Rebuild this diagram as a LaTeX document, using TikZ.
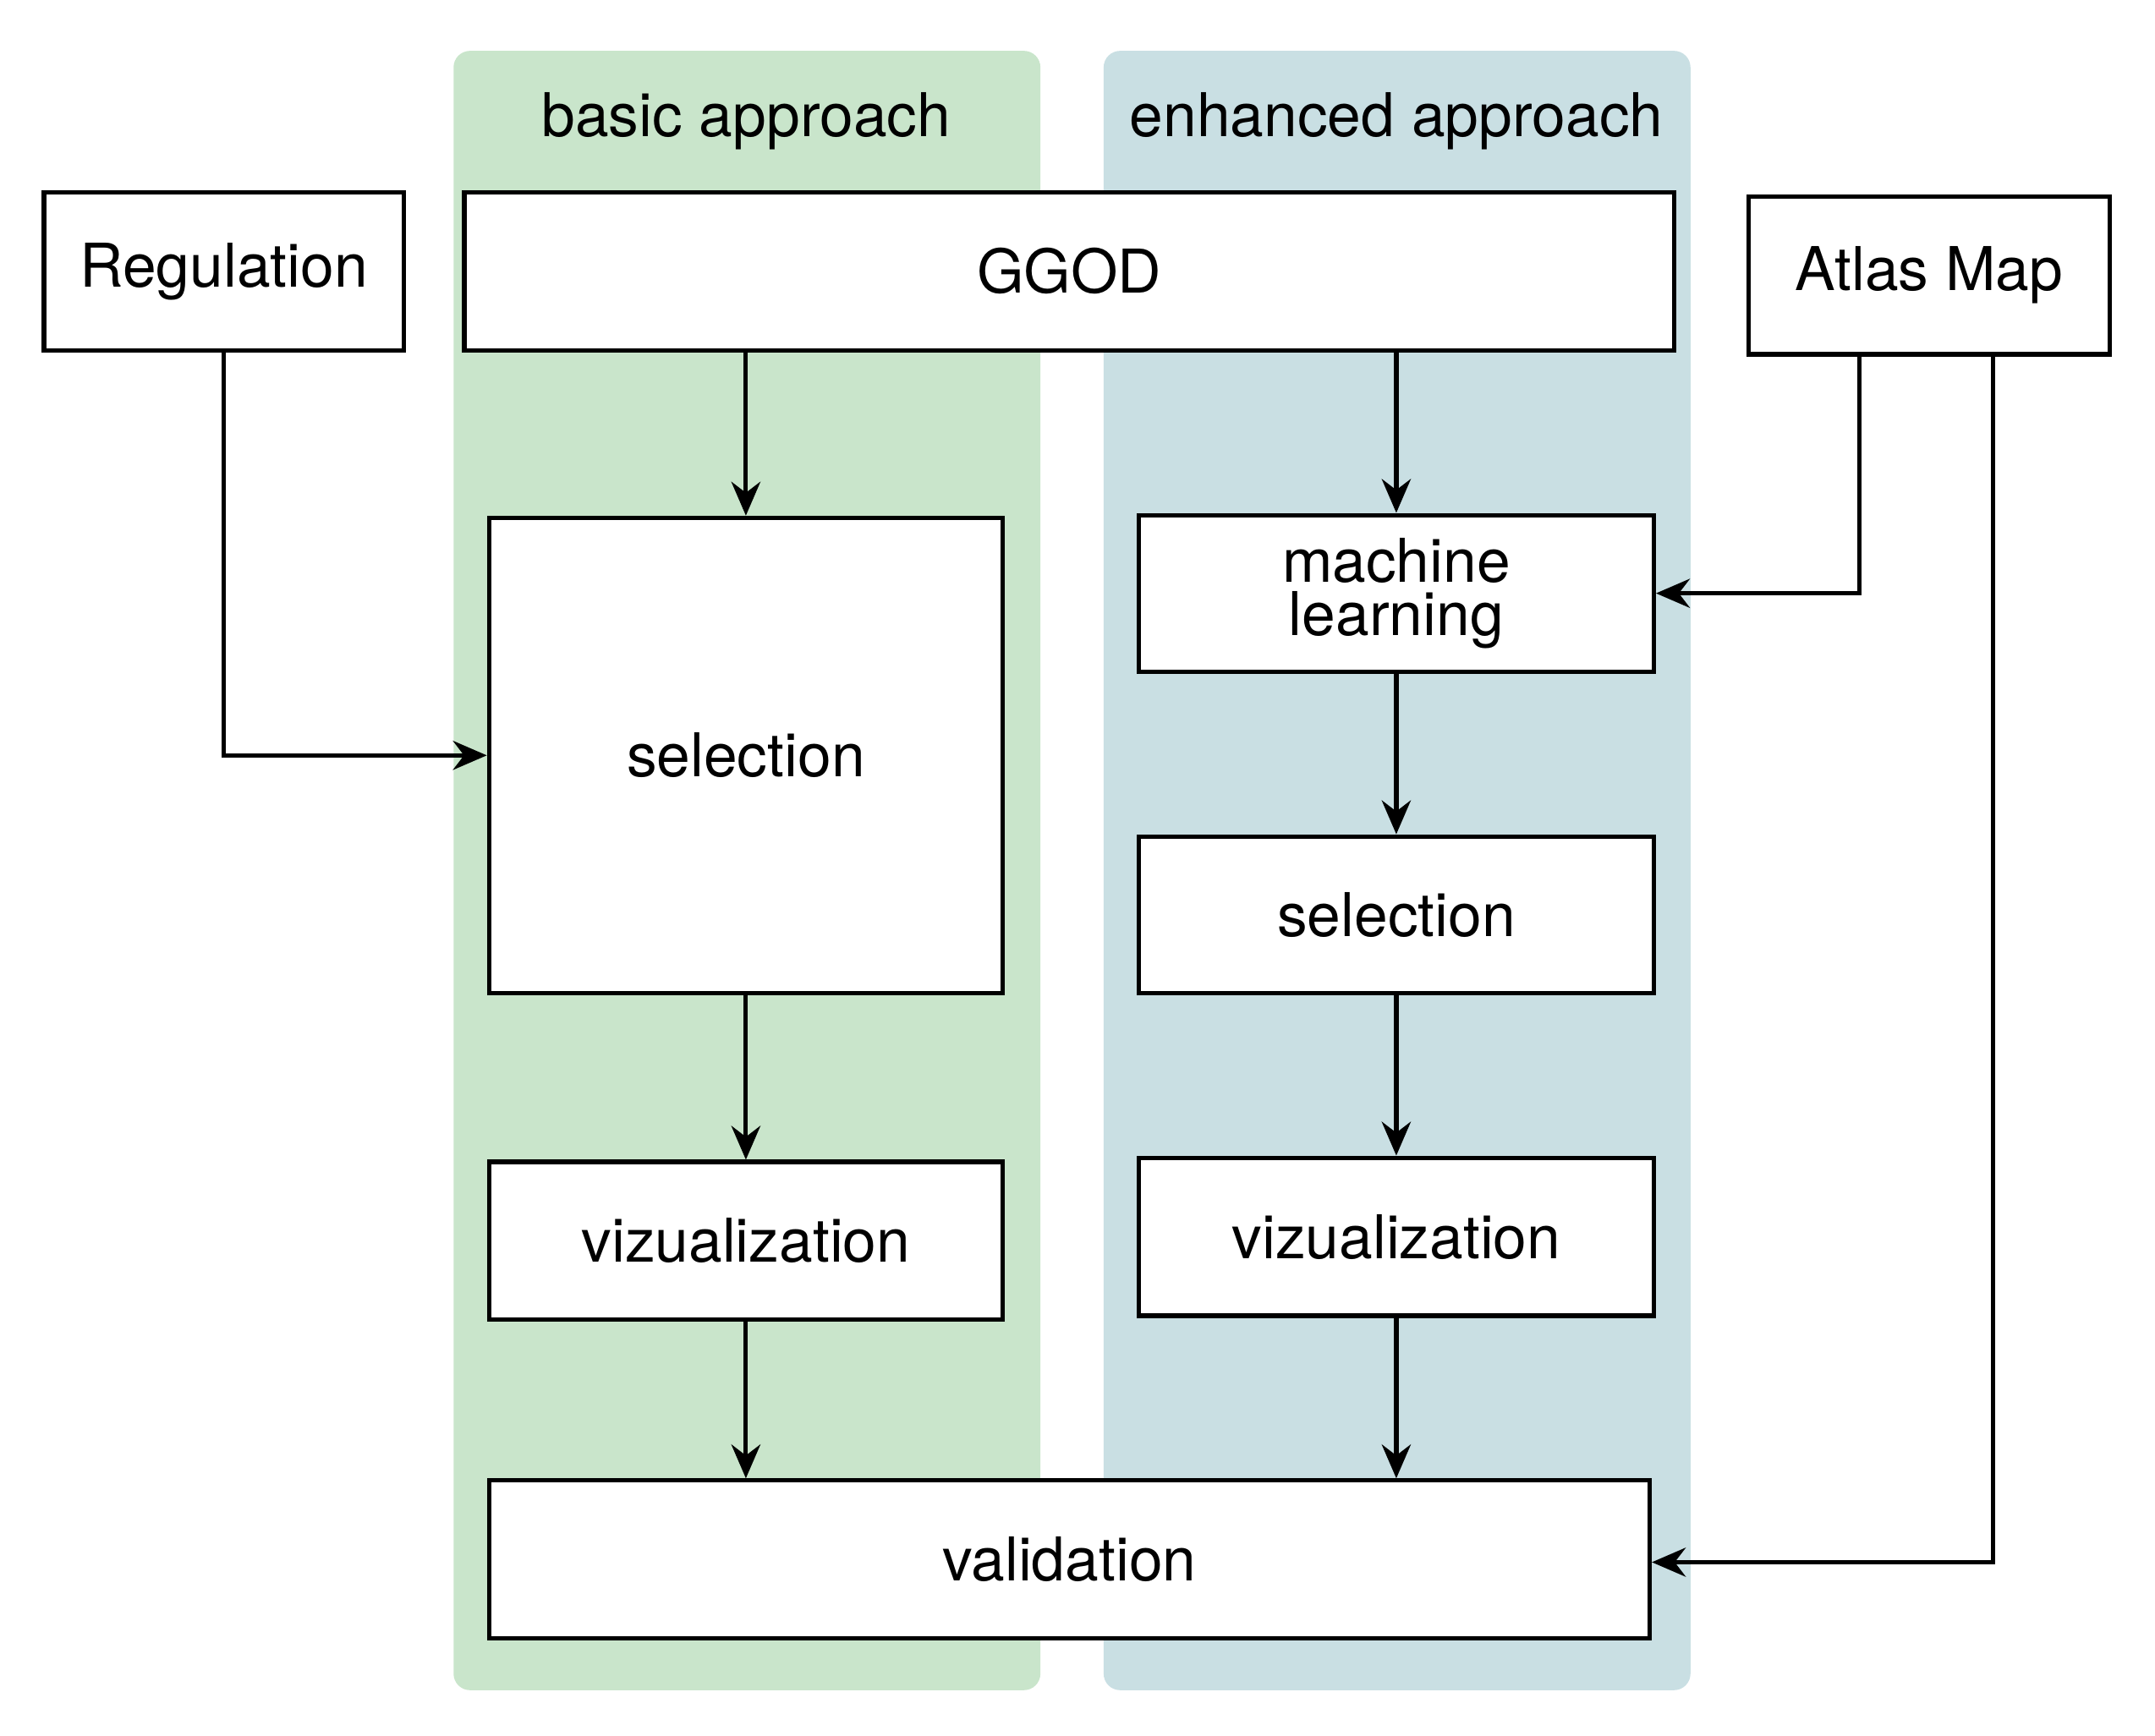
\documentclass[tikz,border=0pt]{standalone}
\usepackage{fontspec}
\setmainfont{TeX Gyre Heros}
\usetikzlibrary{arrows.meta}
\definecolor{pgreen}{HTML}{C9E5CB}
\definecolor{pblue}{HTML}{C9DFE3}
\tikzset{
  box/.style={draw,line width=0.9pt,fill=white,inner sep=0pt,font=\fontsize{12.5}{13}\selectfont,align=center},
  conn/.style={line width=0.9pt,-{Stealth[length=7pt,width=6pt]}},
  panel/.style={rounded corners=0.12cm},
  title/.style={font=\fontsize{12.5}{13}\selectfont}
}
\newcommand{\bx}[6]{\node[box,minimum width=#4*0.01cm-#2*0.01cm,minimum height=#5*0.01cm-#3*0.01cm] (#1) at ({(#2+#4)/2*0.01},{-(#3+#5)/2*0.01}) {#6};}
\begin{document}
\begin{tikzpicture}
\useasboundingbox (0,0) rectangle (15.68,-12.63);
\fill[pgreen,panel] (3.30,-0.37) rectangle (7.57,-12.30);
\fill[pblue,panel] (8.03,-0.37) rectangle (12.30,-12.30);
\node[title] (t1) at (5.43,-0.88) {basic approach};
\node[title] (t2) at (10.16,-0.88) {enhanced approach};
\bx{reg}{32}{140}{294}{255}{Regulation}
\bx{ggod}{338}{140}{1219}{255}{GGOD}
\bx{atlas}{1273}{143}{1536}{258}{Atlas Map}
\bx{sell}{356}{377}{730}{723}{selection}
\bx{ml}{829}{375}{1204}{489}{machine\\[-2pt]learning}
\bx{selr}{829}{609}{1204}{723}{selection}
\bx{vizl}{356}{846}{730}{961}{vizualization}
\bx{vizr}{829}{843}{1204}{958}{vizualization}
\bx{val}{356}{1078}{1201}{1193}{validation}
\draw[conn] (ggod.south -| sell) -- (sell.north);
\draw[conn] (ggod.south -| ml) -- (ml.north);
\draw[conn] (ml) -- (selr);
\draw[conn] (selr) -- (vizr);
\draw[conn] (sell) -- (vizl);
\draw[conn] (vizl.south) -- (vizl.south |- val.north);
\draw[conn] (vizr.south) -- (vizr.south |- val.north);
\draw[conn] (reg.south) |- (sell.west);
\coordinate (a1) at (13.53,0 |- atlas.south);
\coordinate (a2) at (14.50,0 |- atlas.south);
\draw[conn] (a1) |- (ml.east);
\draw[conn] (a2) |- ([yshift=-0.02cm]val.east);
\end{tikzpicture}
\end{document}
